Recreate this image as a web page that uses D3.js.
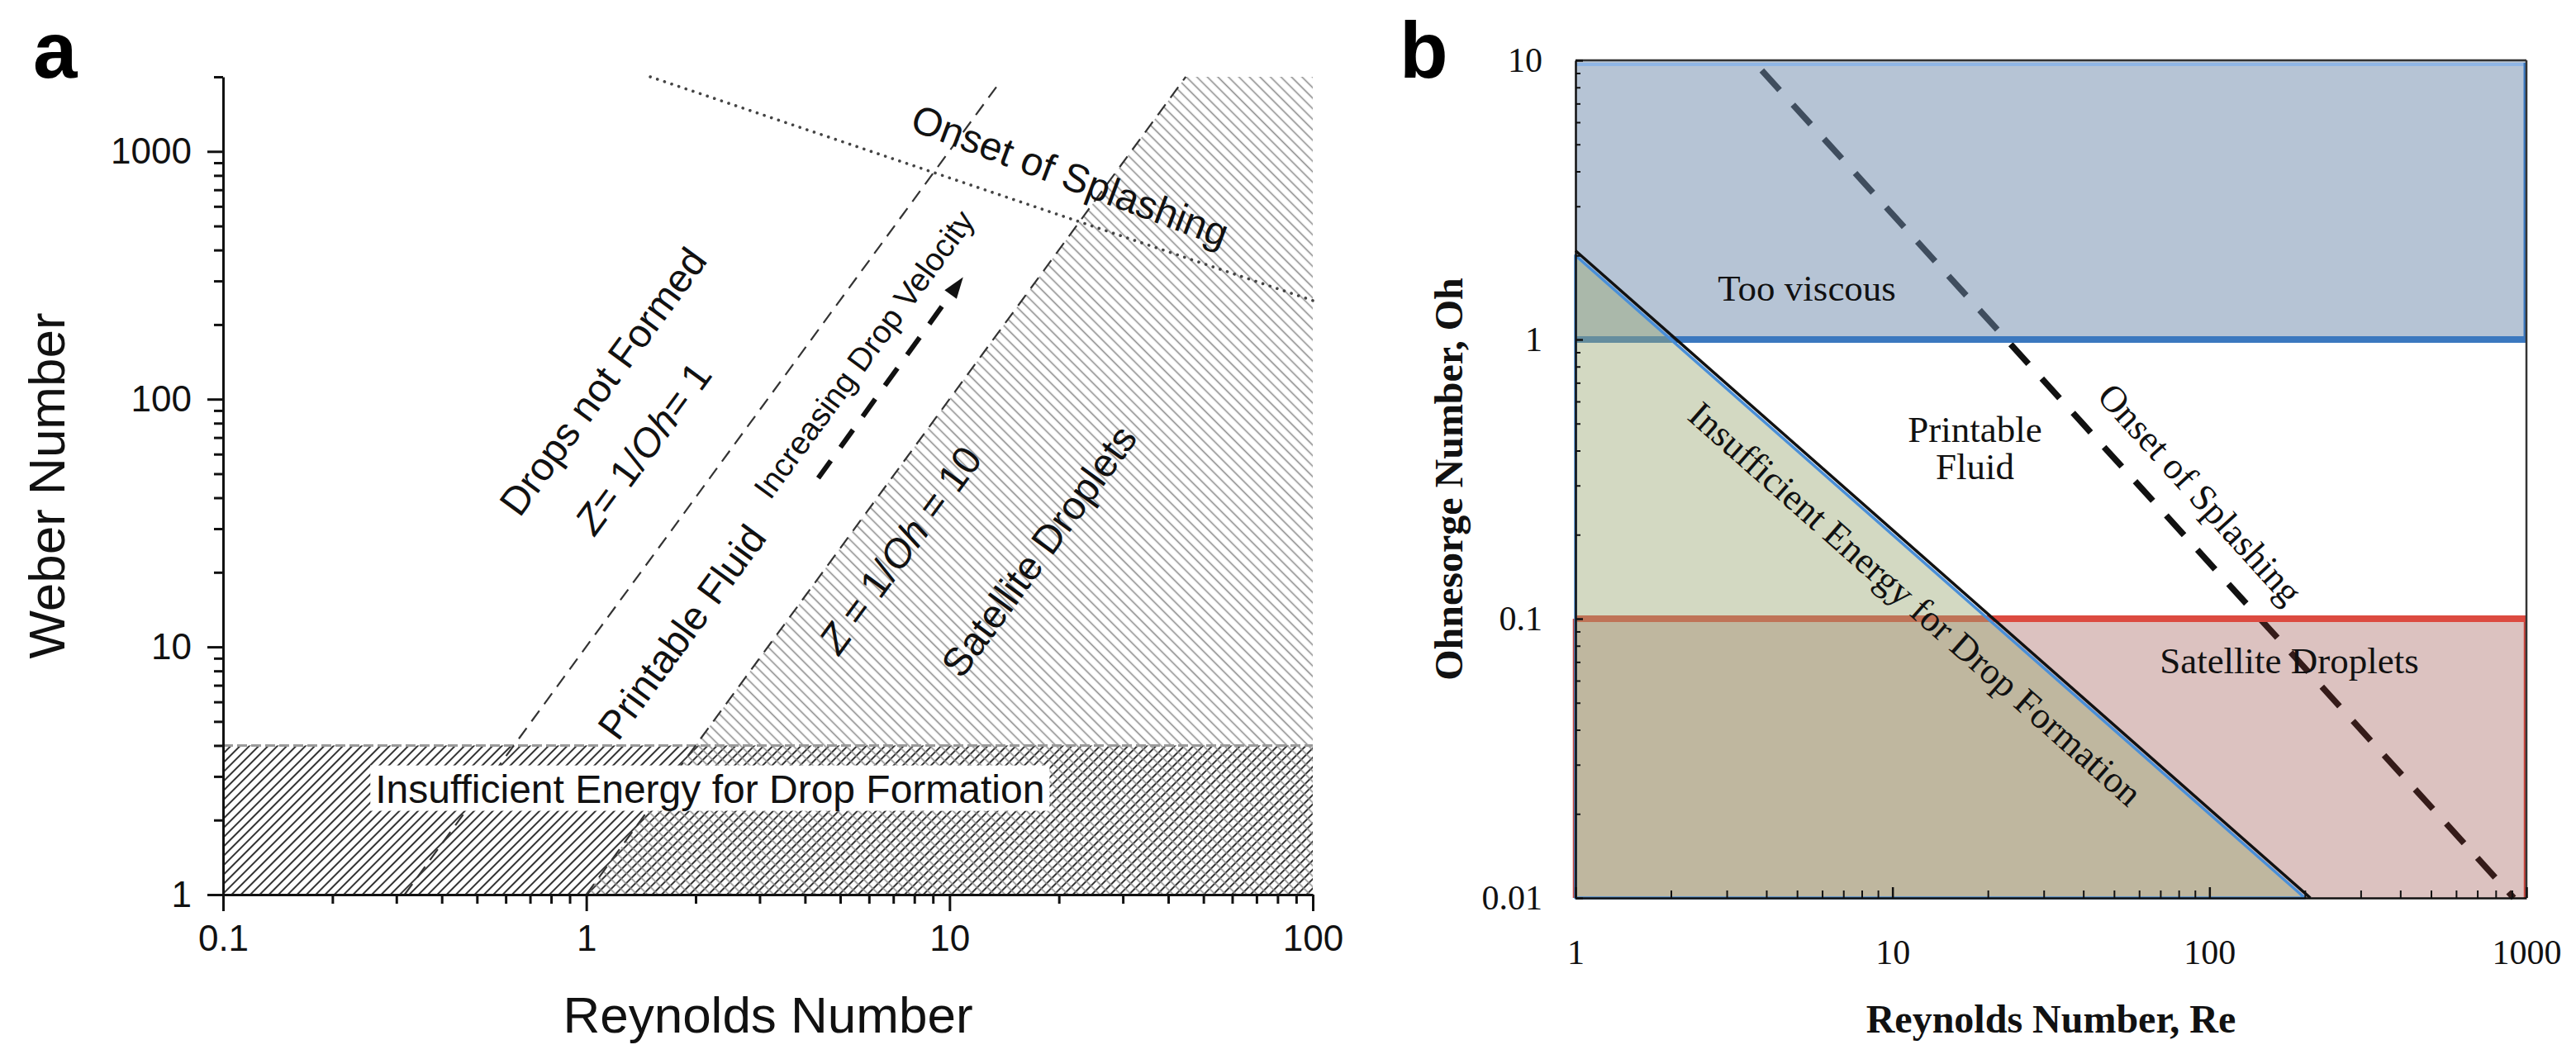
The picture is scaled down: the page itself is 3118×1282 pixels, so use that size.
<!DOCTYPE html>
<html><head><meta charset="utf-8">
<script src="https://cdn.jsdelivr.net/npm/d3@7"></script>
<style>body{margin:0;background:#fff} svg{display:block}</style>
</head><body>
<svg id="chart" width="3118" height="1282"></svg>
<script>
// ---------- Panel a data (Reynolds vs Weber) ----------
const aReTicks = [0.1, 1, 10, 100];
const aWeTicks = [1, 10, 100, 1000];
const aReDomain = [0.1, 100];
const aWeDomain = [1, 2000];
const aInsufficientWe = [1, 4];
const aZ1Line = [[0.316, 1], [13.6, 1860]];
const aZ10Line = [[1, 1], [44.7, 2000]];
const aSatellitePoly = [[1, 1], [44.7, 2000], [100, 2000], [100, 1]];
const aSplashLine = [[1.5, 2000], [100, 250]];
const aVelocityArrow = [[4.35, 48], [10.9, 311]];

// ---------- Panel b data (Reynolds vs Ohnesorge) ----------
const bReTicks = [1, 10, 100, 1000];
const bOhTicks = [0.01, 0.1, 1, 10];
const bReDomain = [1, 1000];
const bOhDomain = [0.01, 10];
const bTooViscousOh = [1, 10];
const bSatelliteOh = [0.01, 0.1];
const bInsufficientTri = [[1, 2], [1, 0.01], [200, 0.01]];
const bInsufficientEdge = [[1, 2.08], [208, 0.01]];
const bSplashLine = [[3.87, 9.2], [912, 0.01]];

const svg = d3.select("#chart");
const defs = svg.append("defs");
const SANS = "'Liberation Sans', Arial, sans-serif";
const SERIF = "'Liberation Serif', 'Times New Roman', serif";

function hatch(id, size, angle, color, width) {
  const p = defs.append("pattern").attr("id", id)
    .attr("patternUnits", "userSpaceOnUse")
    .attr("width", size).attr("height", size)
    .attr("patternTransform", `rotate(${angle})`);
  p.append("line").attr("x1", size / 2).attr("y1", 0).attr("x2", size / 2).attr("y2", size)
    .attr("stroke", color).attr("stroke-width", width);
}
hatch("hatchBand", 8, 45, "#333", 2);
hatch("hatchSat", 9, -45, "#8c8c8c", 1.6);

function angleOf(p0, p1) {
  return Math.atan2(p1[1] - p0[1], p1[0] - p0[0]) * 180 / Math.PI;
}

// =================== PANEL A ===================
const xA = d3.scaleLog().domain(aReDomain).range([270, 1589]);
const yA = d3.scaleLog().domain(aWeDomain).range([1083, 93]);
const gA = svg.append("g");
const lineA = d3.line().x(d => xA(d[0])).y(d => yA(d[1]));

// Insufficient energy band (hatched "/")
gA.append("rect")
  .attr("x", xA(aReDomain[0])).attr("width", xA(aReDomain[1]) - xA(aReDomain[0]))
  .attr("y", yA(aInsufficientWe[1])).attr("height", yA(aInsufficientWe[0]) - yA(aInsufficientWe[1]))
  .attr("fill", "url(#hatchBand)");
// Satellite droplets region (hatched "\")
gA.append("path").attr("d", lineA(aSatellitePoly) + "Z").attr("fill", "url(#hatchSat)");
// band top edge
gA.append("line")
  .attr("x1", xA(aReDomain[0])).attr("x2", xA(aReDomain[1]))
  .attr("y1", yA(aInsufficientWe[1])).attr("y2", yA(aInsufficientWe[1]))
  .attr("stroke", "#9a9a9a").attr("stroke-width", 3).attr("stroke-dasharray", "12,5");

// Z lines
[aZ1Line, aZ10Line].forEach(l => {
  gA.append("path").attr("d", lineA(l)).attr("fill", "none")
    .attr("stroke", "#333").attr("stroke-width", 2.2).attr("stroke-dasharray", "16,10");
});
// Onset of splashing (dotted)
gA.append("path").attr("d", lineA(aSplashLine)).attr("fill", "none")
  .attr("stroke", "#444").attr("stroke-width", 3.6).attr("stroke-linecap", "round")
  .attr("stroke-dasharray", "0.1,9");

// Velocity arrow
{
  const p0 = [xA(aVelocityArrow[0][0]), yA(aVelocityArrow[0][1])];
  const p1 = [xA(aVelocityArrow[1][0]), yA(aVelocityArrow[1][1])];
  const ang = Math.atan2(p1[1] - p0[1], p1[0] - p0[0]);
  const headLen = 26, headW = 9;
  const base = [p1[0] - headLen * Math.cos(ang), p1[1] - headLen * Math.sin(ang)];
  gA.append("line").attr("x1", p0[0]).attr("y1", p0[1])
    .attr("x2", base[0] - 8 * Math.cos(ang)).attr("y2", base[1] - 8 * Math.sin(ang))
    .attr("stroke", "#111").attr("stroke-width", 6).attr("stroke-dasharray", "26,20");
  const nx = -Math.sin(ang), ny = Math.cos(ang);
  gA.append("path")
    .attr("d", `M${p1[0]},${p1[1]}L${base[0] + nx * headW},${base[1] + ny * headW}L${base[0] - nx * headW},${base[1] - ny * headW}Z`)
    .attr("fill", "#111");
}

// Text labels
function label(g, parts, x, y, angle, size, family, weight) {
  const t = g.append("text")
    .attr("transform", `translate(${x},${y}) rotate(${angle})`)
    .attr("text-anchor", "middle").attr("dominant-baseline", "central")
    .attr("font-family", family).attr("font-size", size)
    .attr("font-weight", weight || "normal").attr("fill", "#111");
  parts.forEach(p => {
    const s = t.append("tspan").text(p.t !== undefined ? p.t : p);
    if (p.i) s.attr("font-style", "italic");
  });
  return t;
}
const angZ = angleOf([xA(aZ10Line[0][0]), yA(aZ10Line[0][1])], [xA(aZ10Line[1][0]), yA(aZ10Line[1][1])]);
const angSplA = angleOf([xA(aSplashLine[0][0]), yA(aSplashLine[0][1])], [xA(aSplashLine[1][0]), yA(aSplashLine[1][1])]);

label(gA, ["Drops not Formed"], xA(1.11), yA(118), angZ, 48, SANS);
label(gA, [{t: "Z", i: true}, "= 1/", {t: "Oh", i: true}, "= 1"], xA(1.43), yA(63.6), angZ, 48, SANS);
label(gA, ["Printable Fluid"], xA(1.83), yA(11.5), angZ, 48, SANS);
label(gA, ["Increasing Drop Velocity"], xA(5.8), yA(152), angZ, 39, SANS);
label(gA, [{t: "Z", i: true}, " = 1/", {t: "Oh", i: true}, " = 10"], xA(7.3), yA(24.7), angZ, 48, SANS);
label(gA, ["Satellite Droplets"], xA(17.6), yA(24.4), angZ, 48, SANS);
label(gA, ["Onset of Splashing"], xA(21.5), yA(800), angSplA + 2, 48, SANS);
{
  const t = label(gA, ["Insufficient Energy for Drop Formation"], xA(2.19), yA(2.67), 0, 48, SANS);
  const bb = t.node().getBBox();
  gA.insert("rect", "text")
    .attr("x", xA(2.19) + bb.x - 6).attr("y", yA(2.67) + bb.y - 2)
    .attr("width", bb.width + 12).attr("height", bb.height + 2)
    .attr("fill", "#fff");
}

// Axes panel a
function styleAxis(g, width, size, family) {
  g.selectAll("path.domain").attr("stroke", "#111").attr("stroke-width", width);
  g.selectAll(".tick line").attr("stroke", "#111").attr("stroke-width", width);
  g.selectAll(".tick text").attr("font-family", family).attr("font-size", size).attr("fill", "#111");
}
const fmt = d3.format("~g");
const aXMinor = xA.ticks().filter(v => !aReTicks.includes(v));
const aYMinor = yA.ticks().filter(v => !aWeTicks.includes(v));
const axAx = gA.append("g").attr("transform", `translate(0,${yA(1)})`)
  .call(d3.axisBottom(xA).tickValues(aReTicks).tickFormat(fmt).tickSize(20).tickSizeOuter(0).tickPadding(17));
styleAxis(axAx, 3, 44, SANS);
const axAxm = gA.append("g").attr("transform", `translate(0,${yA(1)})`)
  .call(d3.axisBottom(xA).tickValues(aXMinor).tickFormat("").tickSize(11).tickSizeOuter(0));
styleAxis(axAxm, 3, 44, SANS); axAxm.select(".domain").remove();
const ayAx = gA.append("g").attr("transform", `translate(${xA(0.1)},0)`)
  .call(d3.axisLeft(yA).tickValues(aWeTicks).tickFormat(fmt).tickSize(19).tickSizeOuter(0).tickPadding(19));
styleAxis(ayAx, 3, 44, SANS);
const ayAxm = gA.append("g").attr("transform", `translate(${xA(0.1)},0)`)
  .call(d3.axisLeft(yA).tickValues(aYMinor).tickFormat("").tickSize(11).tickSizeOuter(0));
styleAxis(ayAxm, 3, 44, SANS); ayAxm.select(".domain").remove();

gA.append("text").attr("x", (xA.range()[0] + xA.range()[1]) / 2).attr("y", 1250)
  .attr("text-anchor", "middle").attr("font-family", SANS).attr("font-size", 62).attr("fill", "#111")
  .text("Reynolds Number");
gA.append("text").attr("transform", `translate(78,${(yA.range()[0] + yA.range()[1]) / 2}) rotate(-90)`)
  .attr("text-anchor", "middle").attr("font-family", SANS).attr("font-size", 62).attr("fill", "#111")
  .text("Weber Number");
svg.append("text").attr("x", 40).attr("y", 94).attr("font-family", SANS).attr("font-weight", "bold")
  .attr("font-size", 96).attr("fill", "#000").text("a");

// =================== PANEL B ===================
const xB = d3.scaleLog().domain(bReDomain).range([1907, 3058]);
const yB = d3.scaleLog().domain(bOhDomain).range([1087, 73]);
const gB = svg.append("g");
const lineB = d3.line().x(d => xB(d[0])).y(d => yB(d[1]));
const bx0 = xB(bReDomain[0]), bx1 = xB(bReDomain[1]);

// splash dashed line (under translucent bands)
gB.append("path").attr("d", lineB(bSplashLine)).attr("fill", "none")
  .attr("stroke", "#111").attr("stroke-width", 7.5).attr("stroke-dasharray", "32,24");

// Too viscous band
gB.append("rect").attr("x", bx0).attr("width", bx1 - bx0)
  .attr("y", yB(bTooViscousOh[1])).attr("height", yB(bTooViscousOh[0]) - yB(bTooViscousOh[1]))
  .attr("fill", "#6d89ab").attr("fill-opacity", 0.5);
gB.append("line").attr("x1", bx0).attr("x2", bx1).attr("y1", yB(bTooViscousOh[1]) + 5).attr("y2", yB(bTooViscousOh[1]) + 5)
  .attr("stroke", "#8fb6e6").attr("stroke-width", 4);
gB.append("line").attr("x1", bx1 - 2).attr("x2", bx1 - 2).attr("y1", yB(bTooViscousOh[1]) + 3).attr("y2", yB(bTooViscousOh[0]))
  .attr("stroke", "#3b78bf").attr("stroke-width", 3);
gB.append("line").attr("x1", bx0).attr("x2", bx1).attr("y1", yB(bTooViscousOh[0])).attr("y2", yB(bTooViscousOh[0]))
  .attr("stroke", "#3b78bf").attr("stroke-width", 8);

// Satellite band
gB.append("rect").attr("x", bx0).attr("width", bx1 - bx0)
  .attr("y", yB(bSatelliteOh[1])).attr("height", yB(bSatelliteOh[0]) - yB(bSatelliteOh[1]))
  .attr("fill", "#8a342d").attr("fill-opacity", 0.3);
gB.append("line").attr("x1", bx1 - 2).attr("x2", bx1 - 2).attr("y1", yB(bSatelliteOh[1])).attr("y2", yB(bSatelliteOh[0]))
  .attr("stroke", "#c9453d").attr("stroke-width", 2.5);
gB.append("line").attr("x1", bx0 - 2).attr("x2", bx0 - 2).attr("y1", yB(bSatelliteOh[1])).attr("y2", yB(bSatelliteOh[0]))
  .attr("stroke", "#c9453d").attr("stroke-width", 2.5);
gB.append("line").attr("x1", bx0).attr("x2", bx1).attr("y1", yB(bSatelliteOh[1])).attr("y2", yB(bSatelliteOh[1]))
  .attr("stroke", "#dc4a40").attr("stroke-width", 8);

// Insufficient energy triangle
gB.append("path").attr("d", lineB(bInsufficientTri) + "Z")
  .attr("fill", "#9ba974").attr("fill-opacity", 0.44)
  .attr("stroke", "#4a8fd8").attr("stroke-width", 3.5).attr("stroke-linejoin", "round");
gB.append("path").attr("d", lineB(bInsufficientEdge)).attr("fill", "none")
  .attr("stroke", "#111").attr("stroke-width", 3.5);

// Frame
gB.append("line").attr("x1", bx0).attr("x2", bx1).attr("y1", yB(bOhDomain[1])).attr("y2", yB(bOhDomain[1]))
  .attr("stroke", "#333").attr("stroke-width", 2.5);
gB.append("line").attr("x1", bx1).attr("x2", bx1).attr("y1", yB(bOhDomain[1])).attr("y2", yB(bOhDomain[0]))
  .attr("stroke", "#333").attr("stroke-width", 2.5);

// Axes panel b
const bXMinor = xB.ticks().filter(v => !bReTicks.includes(v));
const bYMinor = yB.ticks().filter(v => !bOhTicks.includes(v));
const bxAx = gB.append("g").attr("transform", `translate(0,${yB(0.01)})`)
  .call(d3.axisBottom(xB).tickValues(bReTicks).tickFormat(fmt).tickSize(-13).tickSizeOuter(0).tickPadding(50));
styleAxis(bxAx, 2.5, 42, SERIF);
const bxAxm = gB.append("g").attr("transform", `translate(0,${yB(0.01)})`)
  .call(d3.axisBottom(xB).tickValues(bXMinor).tickFormat("").tickSize(-9).tickSizeOuter(0));
styleAxis(bxAxm, 2, 42, SERIF); bxAxm.select(".domain").remove();
const byAx = gB.append("g").attr("transform", `translate(${xB(1)},0)`)
  .call(d3.axisLeft(yB).tickValues(bOhTicks).tickFormat(fmt).tickSize(-9).tickSizeOuter(0).tickPadding(40));
styleAxis(byAx, 2.5, 42, SERIF);
const byAxm = gB.append("g").attr("transform", `translate(${xB(1)},0)`)
  .call(d3.axisLeft(yB).tickValues(bYMinor).tickFormat("").tickSize(-6).tickSizeOuter(0));
styleAxis(byAxm, 2, 42, SERIF); byAxm.select(".domain").remove();

// Labels panel b
const angSplB = angleOf([xB(bSplashLine[0][0]), yB(bSplashLine[0][1])], [xB(bSplashLine[1][0]), yB(bSplashLine[1][1])]);
const angTri = angleOf([xB(bInsufficientTri[0][0]), yB(bInsufficientTri[0][1])], [xB(bInsufficientTri[2][0]), yB(bInsufficientTri[2][1])]);
label(gB, ["Too viscous"], xB(5.37), yB(1.53), 0, 45, SERIF);
label(gB, ["Printable"], xB(18.2), yB(0.476), 0, 45, SERIF);
label(gB, ["Fluid"], xB(18.2), yB(0.35), 0, 45, SERIF);
label(gB, ["Onset of Splashing"], xB(93.4), yB(0.28), angSplB, 45, SERIF);
label(gB, ["Insufficient Energy for Drop Formation"], xB(11.8), yB(0.113), angTri, 45, SERIF);
label(gB, ["Satellite Droplets"], xB(178.6), yB(0.0707), 0, 45, SERIF);

gB.append("text").attr("x", (bx0 + bx1) / 2).attr("y", 1250)
  .attr("text-anchor", "middle").attr("font-family", SERIF).attr("font-weight", "bold")
  .attr("font-size", 48).attr("fill", "#111").text("Reynolds Number, Re");
gB.append("text").attr("transform", `translate(1770,${(yB.range()[0] + yB.range()[1]) / 2}) rotate(-90)`)
  .attr("text-anchor", "middle").attr("font-family", SERIF).attr("font-weight", "bold")
  .attr("font-size", 48).attr("fill", "#111").text("Ohnesorge Number, Oh");
svg.append("text").attr("x", 1694).attr("y", 94).attr("font-family", SANS).attr("font-weight", "bold")
  .attr("font-size", 96).attr("fill", "#000").text("b");
</script>
</body></html>
